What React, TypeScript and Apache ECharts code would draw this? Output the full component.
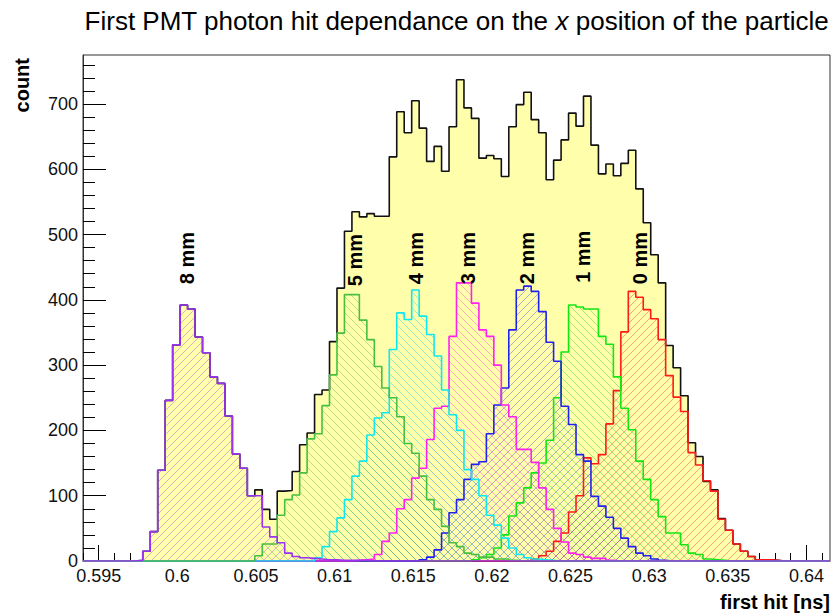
import React, { useEffect, useRef } from 'react';
import * as echarts from 'echarts';

// ---------- axis set-up ----------
const X_MIN = 0.594;
const X_MAX = 0.6415;
const N_BINS = 100;
const BIN_W = 0.000475;
const Y_MIN = 0;
const Y_MAX = 775;

const X_MAJOR = [0.595, 0.6, 0.605, 0.61, 0.615, 0.62, 0.625, 0.63, 0.635, 0.64];
const X_LABELS = ['0.595', '0.6', '0.605', '0.61', '0.615', '0.62', '0.625', '0.63', '0.635', '0.64'];
const X_MINOR = [0.594, 0.596, 0.597, 0.598, 0.599, 0.601, 0.602, 0.603, 0.604, 0.606, 0.607, 0.608, 0.609,
  0.611, 0.612, 0.613, 0.614, 0.616, 0.617, 0.618, 0.619, 0.621, 0.622, 0.623, 0.624, 0.626, 0.627, 0.628, 0.629,
  0.631, 0.632, 0.633, 0.634, 0.636, 0.637, 0.638, 0.639, 0.641];
const Y_MAJOR = [0, 100, 200, 300, 400, 500, 600, 700];
const Y_LABELS = ['0', '100', '200', '300', '400', '500', '600', '700'];
const Y_MINOR = [20, 40, 60, 80, 120, 140, 160, 180, 220, 240, 260, 280, 320, 340, 360, 380, 420, 440, 460, 480,
  520, 540, 560, 580, 620, 640, 660, 680, 720, 740, 760];

// ---------- histogram contents (first filled bin index + counts) ----------
const TOTAL_START = 7;
const TOTAL = [1, 15, 45, 139, 246, 331, 392, 386, 343, 319, 282, 272, 222, 164, 142, 100, 109, 79, 64, 107,
  108, 137, 178, 196, 255, 262, 336, 418, 505, 535, 527, 532, 528, 528, 619, 688, 656, 705, 663, 612,
  635, 597, 665, 737, 694, 678, 617, 621, 616, 589, 665, 699, 718, 676, 656, 584, 614, 645, 686, 666,
  712, 637, 593, 608, 590, 609, 629, 570, 518, 469, 426, 330, 296, 253, 181, 160, 122, 109, 65, 47,
  26, 15, 7, 2, 2, 1];

const MM8_START = 7;
const MM8 = [1, 15, 45, 139, 246, 331, 392, 386, 343, 319, 282, 272, 222, 164, 142, 100, 100, 52, 37, 28,
  12, 7, 5, 4, 3, 2, 2, 1, 1, 1, 1];

const MM5_START = 23;
const MM5 = [8, 26, 26, 70, 94, 101, 135, 187, 195, 238, 285, 349, 408, 408, 369, 339, 298, 265, 250, 221,
  180, 165, 130, 94, 79, 53, 28, 22, 12, 10, 6, 6, 3, 3, 1];

const MM4_START = 31;
const MM4 = [5, 22, 45, 66, 94, 130, 153, 193, 219, 227, 324, 380, 370, 415, 375, 347, 314, 262, 224, 200,
  140, 125, 100, 70, 55, 35, 20, 10, 5, 3, 2, 1];

const MM3_START = 36;
const MM3 = [1, 2, 3, 10, 30, 43, 80, 94, 127, 142, 186, 234, 237, 344, 426, 426, 395, 354, 344, 300,
  239, 221, 171, 171, 151, 112, 79, 50, 29, 12, 10, 6, 4, 4, 1];

const MM2_START = 45;
const MM2 = [2, 6, 17, 43, 74, 94, 125, 148, 152, 195, 239, 265, 354, 415, 421, 413, 382, 335, 306, 237,
  209, 163, 153, 99, 84, 67, 50, 35, 22, 12, 8, 3, 1];

const MM1_START = 52;
const MM1 = [2, 5, 10, 20, 40, 69, 89, 112, 135, 150, 185, 250, 320, 392, 389, 386, 386, 344, 332, 282,
  234, 201, 153, 125, 94, 68, 43, 43, 25, 12, 10, 3, 2, 1];

const MM0_START = 60;
const MM0 = [3, 8, 15, 30, 43, 75, 100, 158, 149, 163, 210, 261, 351, 413, 404, 385, 371, 339, 284, 251,
  229, 166, 147, 123, 107, 64, 47, 26, 15, 7, 2, 2, 1];

const LABELS = ['8 mm', '5 mm', '4 mm', '3 mm', '2 mm', '1 mm', '0 mm'];
const LABEL_X = [0.60061, 0.6113, 0.61518, 0.61848, 0.62223, 0.62579, 0.62942];
const LABEL_Y = [424, 421, 424, 424, 424, 426, 424];

const FONT = '"Liberation Sans", Arial, Helvetica, sans-serif';

function stepData(start: number, vals: number[]): number[][] {
  const counts: number[] = [];
  for (let i = 0; i < N_BINS; i++) {
    const j = i - start;
    counts.push(j >= 0 && j < vals.length ? vals[j] : 0);
  }
  const pts = counts.map((c, i) => [X_MIN + i * BIN_W, c]);
  pts.push([X_MAX, counts[N_BINS - 1]]);
  return pts;
}

function hatch(color: string, dir: '/' | '\\') {
  const s = 8;
  const c = document.createElement('canvas');
  c.width = s;
  c.height = s;
  const g = c.getContext('2d')!;
  g.strokeStyle = color;
  g.lineWidth = 1;
  g.beginPath();
  if (dir === '/') {
    g.moveTo(-1, s + 1); g.lineTo(s + 1, -1);
    g.moveTo(-1, 1); g.lineTo(1, -1);
    g.moveTo(s - 1, s + 1); g.lineTo(s + 1, s - 1);
  } else {
    g.moveTo(-1, -1); g.lineTo(s + 1, s + 1);
    g.moveTo(-1, s - 1); g.lineTo(1, s + 1);
    g.moveTo(s - 1, -1); g.lineTo(s + 1, 1);
  }
  g.stroke();
  return { image: c, repeat: 'repeat', imageWidth: s, imageHeight: s };
}

export default function App() {
  const ref = useRef<HTMLDivElement>(null);

  useEffect(() => {
    if (!ref.current) return;
    const chart = echarts.init(ref.current, undefined, { renderer: 'svg' });

    const hist = (name: string, start: number, vals: number[], color: string, fill: any, width = 1.6) => ({
      name,
      type: 'line',
      step: 'end',
      data: stepData(start, vals),
      showSymbol: false,
      symbol: 'none',
      silent: true,
      lineStyle: { color, width },
      areaStyle: { color: fill, opacity: 1, origin: 'start' },
    });

    const series = [
      hist('total', TOTAL_START, TOTAL, '#111111', '#ffffab', 1.6),
      hist('0 mm', MM0_START, MM0, '#ff1a1a', hatch('rgba(255,40,40,0.42)', '/')),
      hist('1 mm', MM1_START, MM1, '#14e614', hatch('rgba(20,220,20,0.4)', '\\')),
      hist('2 mm', MM2_START, MM2, '#2222ee', hatch('rgba(40,40,230,0.38)', '/')),
      hist('3 mm', MM3_START, MM3, '#ff22ee', hatch('rgba(255,40,230,0.4)', '\\')),
      hist('4 mm', MM4_START, MM4, '#10e8ee', hatch('rgba(20,220,230,0.45)', '\\')),
      hist('5 mm', MM5_START, MM5, '#48bf40', hatch('rgba(70,180,60,0.4)', '\\')),
      hist('8 mm', MM8_START, MM8, '#9a33f0', hatch('rgba(160,60,240,0.4)', '/')),
    ];

    const tickColor = '#000';
    chart.setOption({
      animation: false,
      grid: { left: 83, right: 4, top: 55, bottom: 52, show: true, borderColor: '#333', borderWidth: 1, backgroundColor: 'transparent' },
      xAxis: [
        {
          type: 'value', min: X_MIN, max: X_MAX, position: 'bottom',
          axisLine: { show: true, onZero: false, lineStyle: { color: '#333', width: 1 } },
          axisTick: { show: true, inside: true, length: 16, customValues: X_MAJOR, lineStyle: { color: tickColor, width: 1 } },
          axisLabel: {
            show: true, customValues: X_MAJOR, margin: 6, fontSize: 18, fontFamily: FONT, color: '#111',
            formatter: (v: number) => {
              const i = X_MAJOR.findIndex((m) => Math.abs(m - v) < 1e-7);
              return i >= 0 ? X_LABELS[i] : '';
            },
          },
          splitLine: { show: false },
        },
        {
          type: 'value', min: X_MIN, max: X_MAX, position: 'bottom', offset: 0,
          axisLine: { show: false, onZero: false },
          axisTick: { show: true, inside: true, length: 8, customValues: X_MINOR, lineStyle: { color: tickColor, width: 1 } },
          axisLabel: { show: false },
          splitLine: { show: false },
        },
      ],
      yAxis: [
        {
          type: 'value', min: Y_MIN, max: Y_MAX, position: 'left',
          axisLine: { show: true, onZero: false, lineStyle: { color: '#333', width: 1 } },
          axisTick: { show: true, inside: true, length: 23, customValues: Y_MAJOR, lineStyle: { color: tickColor, width: 1 } },
          axisLabel: {
            show: true, customValues: Y_MAJOR, margin: 5, fontSize: 18, fontFamily: FONT, color: '#111',
            formatter: (v: number) => {
              const i = Y_MAJOR.indexOf(Math.round(v));
              return i >= 0 ? Y_LABELS[i] : '';
            },
          },
          splitLine: { show: false },
        },
        {
          type: 'value', min: Y_MIN, max: Y_MAX, position: 'left', offset: 0,
          axisLine: { show: false, onZero: false },
          axisTick: { show: true, inside: true, length: 12, customValues: Y_MINOR, lineStyle: { color: tickColor, width: 1 } },
          axisLabel: { show: false },
          splitLine: { show: false },
        },
      ],
      series,
    });

    const labelEls = LABELS.map((t, i) => {
      const p = chart.convertToPixel({ xAxisIndex: 0, yAxisIndex: 0 }, [LABEL_X[i], LABEL_Y[i]]) as number[];
      return {
        type: 'text', x: p[0], y: p[1], rotation: Math.PI / 2, silent: true, z: 100,
        style: {
          text: t, fontSize: 20, fontWeight: 'bold', fontFamily: FONT, fill: '#000',
          align: 'left', verticalAlign: 'middle', textAlign: 'left', textVerticalAlign: 'middle',
        },
      };
    });

    chart.setOption({
      graphic: [
        {
          type: 'text', x: 456.5, y: 21, silent: true,
          style: {
            text: '{a|First PMT photon hit dependance on the }{i|x}{a| position of the particle}',
            rich: {
              a: { fontSize: 26, fontFamily: FONT, fill: '#000', color: '#000' },
              i: { fontSize: 26, fontFamily: FONT, fontStyle: 'italic', fill: '#000', color: '#000' },
            },
            fontSize: 26, fontFamily: FONT,
            align: 'center', verticalAlign: 'middle', textAlign: 'center', textVerticalAlign: 'middle',
          },
        },
        {
          type: 'text', x: 830, y: 602, silent: true,
          style: {
            text: 'first hit [ns]', fontSize: 20, fontWeight: 'bold', fontFamily: FONT, fill: '#000',
            align: 'right', verticalAlign: 'middle', textAlign: 'right', textVerticalAlign: 'middle',
          },
        },
        {
          type: 'text', x: 22, y: 58, rotation: Math.PI / 2, silent: true,
          style: {
            text: 'count', fontSize: 20, fontWeight: 'bold', fontFamily: FONT, fill: '#000',
            align: 'right', verticalAlign: 'middle', textAlign: 'right', textVerticalAlign: 'middle',
          },
        },
        ...labelEls,
      ],
    });

    return () => chart.dispose();
  }, []);

  return <div ref={ref} style={{ position: 'absolute', left: 0, top: 0, width: 834, height: 613 }} />;
}
